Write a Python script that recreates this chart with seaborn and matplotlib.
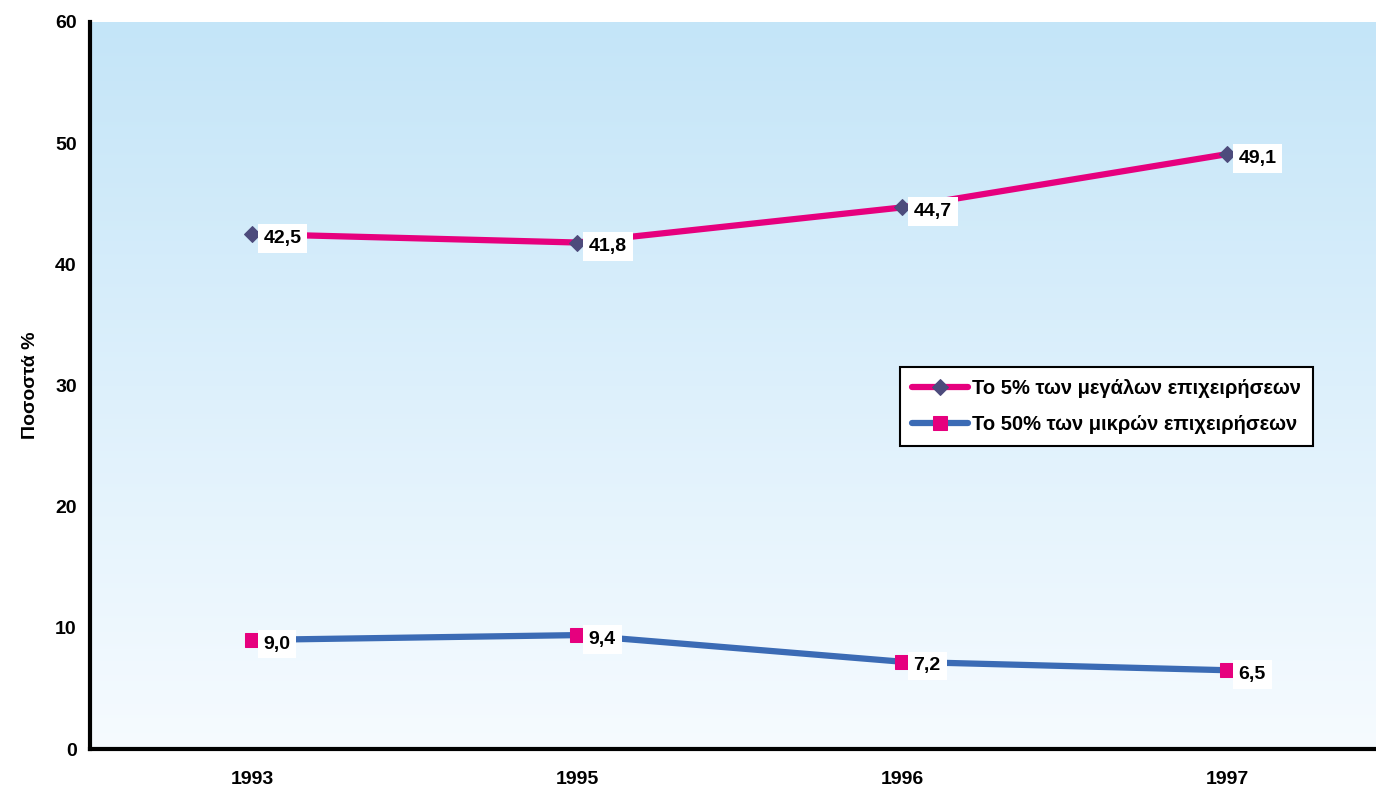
import numpy as np
import pandas as pd
import matplotlib
matplotlib.use("Agg")
import matplotlib.pyplot as plt
import seaborn as sns
from matplotlib.colors import LinearSegmentedColormap

years = ['1993', '1995', '1996', '1997']
large_5pct = [42.5, 41.8, 44.7, 49.1]
small_50pct = [9.0, 9.4, 7.2, 6.5]
label_large = 'Το 5% των μεγάλων επιχειρήσεων'
label_small = 'Το 50% των μικρών επιχειρήσεων'

df = pd.DataFrame({'year': years * 2,
                   'value': large_5pct + small_50pct,
                   'series': [label_large] * 4 + [label_small] * 4})
df['pos'] = list(range(len(years))) * 2

sns.set_theme(style="white")
plt.rcParams['font.family'] = ['Liberation Sans', 'DejaVu Sans']
plt.rcParams['font.weight'] = 'bold'
plt.rcParams['text.color'] = 'black'
plt.rcParams['xtick.color'] = 'black'
plt.rcParams['ytick.color'] = 'black'
plt.rcParams['axes.labelcolor'] = 'black'

fig = plt.figure(figsize=(13.76, 7.92), dpi=100)
ax = fig.add_axes([90 / 1376, 1 - 749 / 792, 1300 / 1376, 727 / 792])

# gradient background, blue at top fading to white at bottom
cmap = LinearSegmentedColormap.from_list('bg', ['#f6fbff', '#c4e5f8'])
grad = np.linspace(0, 1, 256).reshape(-1, 1)
ax.imshow(grad, extent=[-0.5, 3.5, 0, 60], origin='lower', aspect='auto',
          cmap=cmap, zorder=0)

pink = '#e6007e'
blue = '#3b6bb5'
navy = '#4d4b7c'

sns.lineplot(data=df[df.series == label_large], x='pos', y='value', ax=ax,
             color=pink, lw=4.5, marker='D', ms=8, mfc=navy, mec=navy,
             label=label_large, zorder=3)
sns.lineplot(data=df[df.series == label_small], x='pos', y='value', ax=ax,
             color=blue, lw=4.5, marker='s', ms=10, mfc=pink, mec=pink,
             label=label_small, zorder=3)

for i in range(len(years)):
    for v in (large_5pct[i], small_50pct[i]):
        ax.annotate(f'{v:.1f}'.replace('.', ','), (i, v), xytext=(8, -3),
                    textcoords='offset points', ha='left', va='center',
                    fontsize=14, fontweight='bold', color='black', zorder=4,
                    bbox=dict(boxstyle='square,pad=0.3', fc='white', ec='none'))

ax.set_xlim(-0.5, 3.5)
ax.set_ylim(0, 60)
ax.set_xticks(range(len(years)))
ax.set_xticklabels(years)
ax.set_xticks([-0.5, 0.5, 1.5, 2.5], minor=True)
ax.set_yticks(range(0, 61, 10))
ax.tick_params(axis='x', which='major', length=0, pad=16, labelsize=14)
ax.tick_params(axis='x', which='minor', length=6, width=1.5, direction='out')
ax.tick_params(axis='y', length=6, width=1.5, direction='out', labelsize=14)
ax.set_xlabel('')
ax.set_ylabel('Ποσοστά %', fontsize=14, fontweight='bold', labelpad=12)

for s in ['top', 'right']:
    ax.spines[s].set_visible(False)
for s in ['left', 'bottom']:
    ax.spines[s].set_color('black')
    ax.spines[s].set_linewidth(3)

leg = ax.legend(loc='upper left', bbox_to_anchor=(810 / 1300, (749 - 367) / 727),
                prop={'size': 14.5, 'weight': 'bold'}, frameon=True, fancybox=False,
                edgecolor='black', framealpha=1, handlelength=2.8,
                handletextpad=0.2, borderpad=0.6, labelspacing=0.85,
                borderaxespad=0)
leg.get_frame().set_linewidth(1.5)

fig.savefig('out.png', dpi=100)
